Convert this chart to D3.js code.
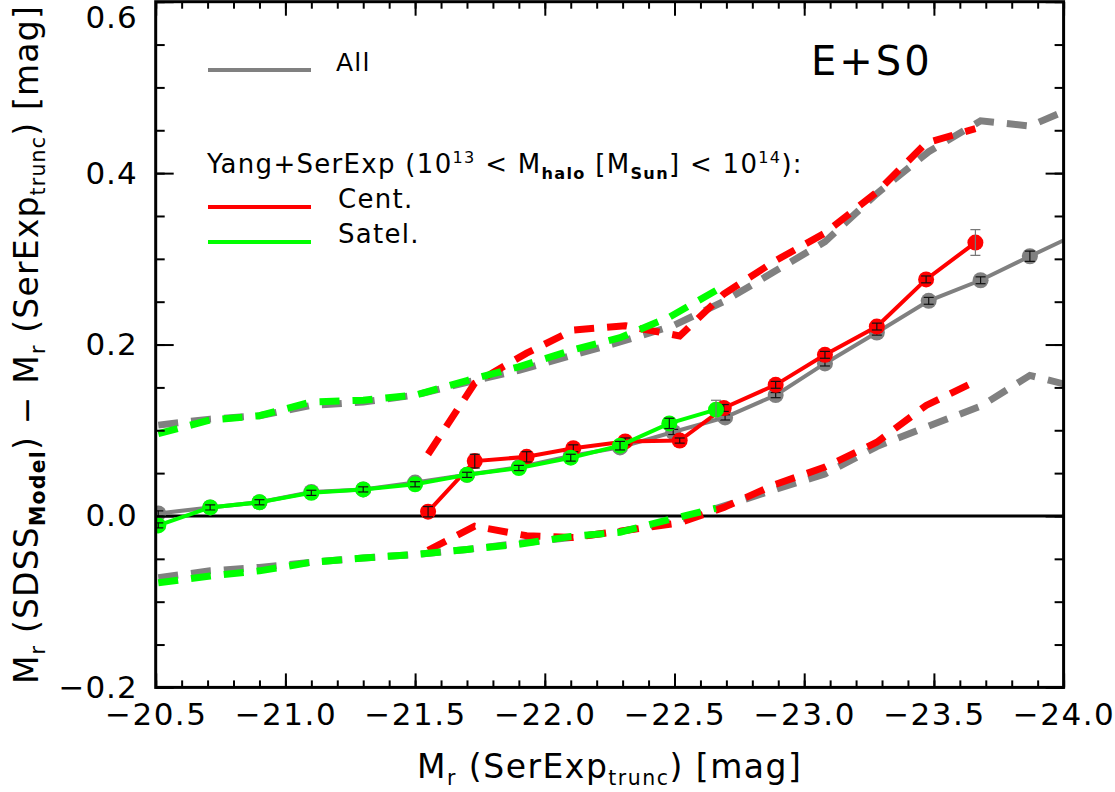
<!DOCTYPE html>
<html>
<head>
<meta charset="utf-8">
<script src="https://cdn.jsdelivr.net/npm/d3@7"></script>
<style>
  html, body { margin: 0; padding: 0; background: #fff; }
  svg text { font-family: "DejaVu Sans", sans-serif; fill: #000; }
</style>
</head>
<body>
<svg id="chart" width="1115" height="792"></svg>
<script>
// Bins in absolute magnitude (All sample, and satellites share the same bins)
const xAll = [-20.51, -20.71, -20.90, -21.10, -21.30, -21.50, -21.70, -21.90, -22.10, -22.29,
              -22.495, -22.695, -22.89, -23.08, -23.28, -23.48, -23.68, -23.87, -24.08];
const allMed = [0.003, 0.010, 0.016, 0.028, 0.031, 0.039, 0.048, 0.057, 0.070, 0.080,
                0.098, 0.115, 0.141, 0.178, 0.214, 0.251, 0.275, 0.303, 0.333];
const allErr = [0.003, 0.003, 0.003, 0.003, 0.003, 0.003, 0.003, 0.003, 0.003, 0.003,
                0.003, 0.003, 0.003, 0.003, 0.003, 0.004, 0.004, 0.006, 0.006];
const allHi = [0.106, 0.113, 0.117, 0.129, 0.133, 0.141, 0.156, 0.170, 0.187, 0.203,
               0.222, 0.251, 0.286, 0.320, 0.376, 0.425, 0.461, 0.455, 0.482];
const allLo = [-0.072, -0.064, -0.060, -0.054, -0.049, -0.045, -0.039, -0.032, -0.025, -0.018,
               -0.007, 0.012, 0.031, 0.049, 0.081, 0.105, 0.128, 0.164, 0.148];

// Centrals
const xCen = [-21.55, -21.73, -21.93, -22.11, -22.31, -22.52, -22.69, -22.89, -23.08, -23.28, -23.47, -23.66];
const cenMed = [0.005, 0.064, 0.069, 0.079, 0.087, 0.088, 0.126, 0.153, 0.188, 0.221, 0.276, 0.319];
const cenErr = [0.006, 0.008, 0.006, 0.004, 0.004, 0.003, 0.004, 0.004, 0.004, 0.004, 0.004, 0.015];
const cenHi = [0.072, 0.155, 0.190, 0.217, 0.222, 0.210, 0.259, 0.298, 0.330, 0.378, 0.435, 0.452];
const cenLo = [-0.040, -0.012, -0.023, -0.025, -0.017, -0.008, 0.010, 0.037, 0.057, 0.086, 0.129, 0.157];

// Satellites
const xSat = [-20.51, -20.71, -20.90, -21.10, -21.30, -21.50, -21.70, -21.90, -22.10, -22.29, -22.48, -22.66];
const satMed = [-0.011, 0.010, 0.016, 0.027, 0.031, 0.037, 0.048, 0.056, 0.068, 0.082, 0.108, 0.124];
const satErr = [0.003, 0.003, 0.003, 0.003, 0.003, 0.003, 0.003, 0.003, 0.004, 0.005, 0.006, 0.011];
const satHi = [0.096, 0.112, 0.117, 0.133, 0.135, 0.141, 0.158, 0.174, 0.193, 0.208, 0.232, 0.263];
const satLo = [-0.078, -0.070, -0.064, -0.054, -0.049, -0.045, -0.039, -0.033, -0.024, -0.019, -0.004, 0.009];

// Axis ticks
const xMajor = [-20.5, -21.0, -21.5, -22.0, -22.5, -23.0, -23.5, -24.0];
const yMajor = [-0.2, 0.0, 0.2, 0.4, 0.6];

const series = [
  { name: 'All', color: '#808080', x: xAll, med: allMed, err: allErr, hi: allHi, lo: allLo },
  { name: 'Cent.', color: '#ff0000', x: xCen, med: cenMed, err: cenErr, hi: cenHi, lo: cenLo },
  { name: 'Satel.', color: '#00ff00', x: xSat, med: satMed, err: satErr, hi: satHi, lo: satLo }
];

const margin = { left: 155.7, right: 51.4, top: 1.7, bottom: 104.6 };
const W = 1115, H = 792;
const width = W - margin.left - margin.right;
const height = H - margin.top - margin.bottom;

const svg = d3.select('#chart');
const g = svg.append('g').attr('transform', `translate(${margin.left},${margin.top})`);

const xScale = d3.scaleLinear().domain([-20.5, -24.0]).range([0, width]);
const yScale = d3.scaleLinear().domain([-0.2, 0.6]).range([height, 0]);

g.append('clipPath').attr('id', 'plot-clip')
  .append('rect').attr('width', width).attr('height', height);

const plot = g.append('g').attr('clip-path', 'url(#plot-clip)');

// zero line
plot.append('line')
  .attr('x1', 0).attr('x2', width)
  .attr('y1', yScale(0)).attr('y2', yScale(0))
  .attr('stroke', '#000').attr('stroke-width', 3);

const line = d3.line().x(d => xScale(d[0])).y(d => yScale(d[1]));

// dashed percentile bands first
series.forEach(s => {
  [s.hi, s.lo].forEach(arr => {
    plot.append('path')
      .datum(s.x.map((x, i) => [x, arr[i]]))
      .attr('d', line)
      .attr('fill', 'none')
      .attr('stroke', s.color)
      .attr('stroke-width', 7)
      .attr('stroke-dasharray', '20,13');
  });
});

// median lines with markers and error bars
series.forEach(s => {
  const pts = s.x.map((x, i) => ({ x: x, y: s.med[i], e: s.err[i] }));
  plot.append('path')
    .datum(pts.map(p => [p.x, p.y]))
    .attr('d', line)
    .attr('fill', 'none')
    .attr('stroke', s.color)
    .attr('stroke-width', 4);

  plot.selectAll(null).data(pts).enter()
    .append('circle')
    .attr('cx', d => xScale(d.x))
    .attr('cy', d => yScale(d.y))
    .attr('r', 8)
    .attr('fill', s.color);

  const eb = plot.selectAll(null).data(pts).enter().append('g')
    .attr('stroke', d => d.e > 0.01 ? '#777' : '#111')
    .attr('stroke-width', 1.2);
  eb.append('line')
    .attr('x1', d => xScale(d.x)).attr('x2', d => xScale(d.x))
    .attr('y1', d => yScale(d.y - d.e)).attr('y2', d => yScale(d.y + d.e));
  [-1, 1].forEach(sign => {
    eb.append('line')
      .attr('x1', d => xScale(d.x) - 5).attr('x2', d => xScale(d.x) + 5)
      .attr('y1', d => yScale(d.y + sign * d.e)).attr('y2', d => yScale(d.y + sign * d.e));
  });
});

// Axes: ticks on all four sides, pointing inward
const fmt = d => d3.format('.1f')(d).replace('-', '\u2212');
const xMinor = d3.range(-205, -241, -1).map(v => v / 10);
const yMinor = d3.range(-4, 13).map(v => v * 0.05);

function styleAxis(sel) {
  sel.select('.domain').remove();
  sel.selectAll('.tick line').attr('stroke', '#000').attr('stroke-width', 2);
}

g.append('g').attr('transform', `translate(0,${height})`)
  .call(d3.axisBottom(xScale).tickValues(xMinor).tickSize(-7).tickFormat(''))
  .call(styleAxis);
g.append('g')
  .call(d3.axisTop(xScale).tickValues(xMinor).tickSize(-7).tickFormat(''))
  .call(styleAxis);
g.append('g').attr('transform', `translate(0,${height})`)
  .call(d3.axisBottom(xScale).tickValues(xMajor).tickSize(-14).tickPadding(16).tickFormat(fmt))
  .call(styleAxis)
  .selectAll('text')
  .attr('font-size', 31).attr('letter-spacing', 1.5)
  .attr('font-family', '"DejaVu Sans", sans-serif');
g.append('g')
  .call(d3.axisTop(xScale).tickValues(xMajor).tickSize(-14).tickFormat(''))
  .call(styleAxis);

g.append('g')
  .call(d3.axisLeft(yScale).tickValues(yMinor).tickSize(-9).tickFormat(''))
  .call(styleAxis);
g.append('g').attr('transform', `translate(${width},0)`)
  .call(d3.axisRight(yScale).tickValues(yMinor).tickSize(-9).tickFormat(''))
  .call(styleAxis);
const yAx = g.append('g')
  .call(d3.axisLeft(yScale).tickValues(yMajor).tickSize(-18).tickPadding(18).tickFormat(fmt))
  .call(styleAxis);
yAx.selectAll('text')
  .attr('font-size', 31).attr('letter-spacing', 1)
  .attr('font-family', '"DejaVu Sans", sans-serif');
yAx.selectAll('.tick').filter(d => d === 0.6).select('text').attr('dy', '0.82em');
g.append('g').attr('transform', `translate(${width},0)`)
  .call(d3.axisRight(yScale).tickValues(yMajor).tickSize(-18).tickFormat(''))
  .call(styleAxis);

// frame
g.append('rect')
  .attr('width', width).attr('height', height)
  .attr('fill', 'none').attr('stroke', '#000').attr('stroke-width', 3);

// axis titles
function richText(sel, parts, size) {
  parts.forEach(p => {
    const t = sel.append('tspan').text(p.t);
    if (p.sub) t.attr('font-size', size * 0.62).attr('dy', size * 0.22);
    else if (p.sup) t.attr('font-size', size * 0.62).attr('dy', -size * 0.38);
    if (p.bold) t.attr('font-weight', 'bold');
    if (p.back) t.attr('dy', p.back);
  });
}

const xTitle = svg.append('text')
  .attr('x', margin.left + width / 2).attr('y', 778)
  .attr('text-anchor', 'middle').attr('font-size', 33).attr('letter-spacing', 1.5);
richText(xTitle, [
  { t: 'M' }, { t: 'r', sub: true }, { t: ' (SerExp', back: -33 * 0.22 },
  { t: 'trunc', sub: true }, { t: ') [mag]', back: -33 * 0.22 }
], 33);

const yTitle = svg.append('text')
  .attr('transform', `translate(38,${margin.top + height / 2}) rotate(-90)`)
  .attr('text-anchor', 'middle').attr('font-size', 33).attr('letter-spacing', 1.2);
richText(yTitle, [
  { t: 'M' }, { t: 'r', sub: true }, { t: ' (SDSS', back: -33 * 0.22 },
  { t: 'Model', sub: true, bold: true }, { t: ') \u2212 M', back: -33 * 0.22 },
  { t: 'r', sub: true }, { t: ' (SerExp', back: -33 * 0.22 },
  { t: 'trunc', sub: true }, { t: ') [mag]', back: -33 * 0.22 }
], 33);

// sample label
svg.append('text')
  .attr('x', 811).attr('y', 75)
  .attr('font-size', 40).attr('letter-spacing', 3)
  .text('E+S0');

// legend
const legend = svg.append('g').attr('class', 'legend');
legend.append('line')
  .attr('x1', 208).attr('x2', 311).attr('y1', 70).attr('y2', 70)
  .attr('stroke', series[0].color).attr('stroke-width', 4);
legend.append('text').attr('x', 336).attr('y', 71)
  .attr('font-size', 25).attr('letter-spacing', 1.2).text(series[0].name);

const head = legend.append('text').attr('x', 207).attr('y', 173)
  .attr('font-size', 26).attr('letter-spacing', 1.3);
richText(head, [
  { t: 'Yang+SerExp (10' }, { t: '13', sup: true }, { t: ' < M', back: 26 * 0.38 },
  { t: 'halo', sub: true, bold: true }, { t: ' [M', back: -26 * 0.22 },
  { t: 'Sun', sub: true, bold: true }, { t: '] < 10', back: -26 * 0.22 },
  { t: '14', sup: true }, { t: '):', back: 26 * 0.38 }
], 26);

[series[1], series[2]].forEach((s, i) => {
  const y = 207 + i * 35;
  legend.append('line')
    .attr('x1', 208).attr('x2', 311).attr('y1', y).attr('y2', y)
    .attr('stroke', s.color).attr('stroke-width', 4);
  legend.append('text').attr('x', 338).attr('y', y + 1)
    .attr('font-size', 26).attr('letter-spacing', 1.3).text(s.name);
});
</script>
</body>
</html>
